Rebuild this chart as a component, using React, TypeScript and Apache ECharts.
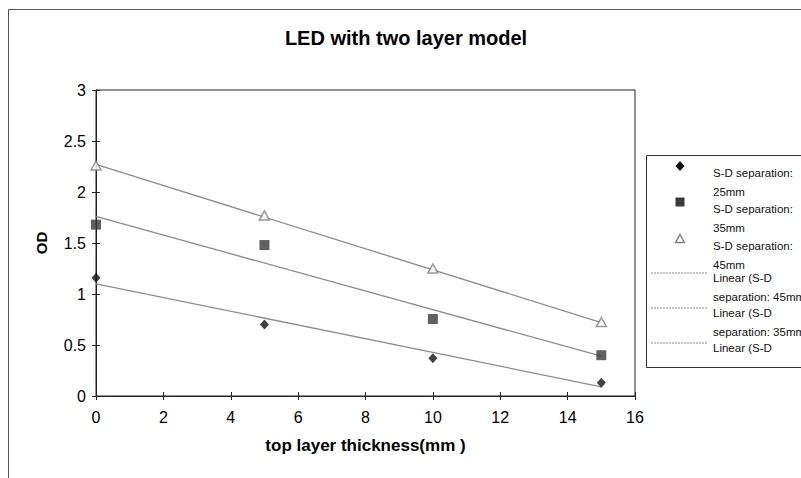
import React, { useEffect, useRef } from "react";
import * as echarts from "echarts";

const thickness = [0, 5, 10, 15];
const od25mm = [1.16, 0.7, 0.37, 0.13];
const od35mm = [1.68, 1.48, 0.755, 0.4];
const od45mm = [2.26, 1.77, 1.25, 0.725];
// trendline end values (at x = 0 and x = 15)
const trendX = [0, 15];
const trend25mm = [1.1, 0.09];
const trend35mm = [1.76, 0.39];
const trend45mm = [2.27, 0.72];

const legendLabels = [
  ["S-D separation:", "25mm"],
  ["S-D separation:", "35mm"],
  ["S-D separation:", "45mm"],
  ["Linear (S-D", "separation: 45mm"],
  ["Linear (S-D", "separation: 35mm"],
  ["Linear (S-D", "separation: 25mm)"],
];

const FONT = "Liberation Sans, Arial, sans-serif";
const TREND_COLOR = "#8c8c8c";

function zip(xs: number[], ys: number[]) {
  return xs.map((x, i) => [x, ys[i]]);
}

export default function App() {
  const ref = useRef<HTMLDivElement>(null);
  useEffect(() => {
    if (!ref.current) return;
    const chart = echarts.init(ref.current, null, { renderer: "svg" });

    const legendX = 646;
    const markerX = 680;
    const textX = 713;
    const rowsY = [166, 202, 239, 273, 308, 343];
    const legendGraphics: any[] = [
      {
        type: "rect",
        shape: { x: legendX + 0.5, y: 155.5, width: 200, height: 212 },
        style: { fill: "#fff", stroke: "#333", lineWidth: 1 },
        z: 10,
      },
    ];
    rowsY.forEach((y, i) => {
      const first = i < 3 ? y + 7 : y + 5;
      legendGraphics.push({
        type: "text",
        x: textX,
        y: first,
        style: {
          text: legendLabels[i][0],
          font: `11.5px ${FONT}`,
          fill: "#111",
          textVerticalAlign: "middle",
        },
        z: 11,
      });
      if (first + 19 < 366) {
        legendGraphics.push({
          type: "text",
          x: textX,
          y: first + 19,
          style: {
            text: legendLabels[i][1],
            font: `11.5px ${FONT}`,
            fill: "#111",
            textVerticalAlign: "middle",
          },
          z: 11,
        });
      }
    });
    // markers
    legendGraphics.push({
      type: "polygon",
      shape: {
        points: [
          [markerX, rowsY[0] - 5],
          [markerX + 4.5, rowsY[0]],
          [markerX, rowsY[0] + 5],
          [markerX - 4.5, rowsY[0]],
        ],
      },
      style: { fill: "#111" },
      z: 11,
    });
    legendGraphics.push({
      type: "rect",
      shape: { x: markerX - 4.5, y: rowsY[1] - 4.5, width: 9, height: 9 },
      style: { fill: "#3a3a3a" },
      z: 11,
    });
    legendGraphics.push({
      type: "polygon",
      shape: {
        points: [
          [markerX, rowsY[2] - 4.5],
          [markerX + 4.5, rowsY[2] + 3.5],
          [markerX - 4.5, rowsY[2] + 3.5],
        ],
      },
      style: { fill: "#fff", stroke: "#808080", lineWidth: 1.5 },
      z: 11,
    });
    [3, 4, 5].forEach((i) => {
      legendGraphics.push({
        type: "line",
        shape: { x1: 651, y1: rowsY[i], x2: 708, y2: rowsY[i] },
        style: { stroke: TREND_COLOR, lineWidth: 1, lineDash: [2, 1] },
        z: 11,
      });
    });

    const trendSeries = (name: string, vals: number[]) => ({
      name,
      type: "line",
      data: zip(trendX, vals),
      symbol: "none",
      lineStyle: { color: TREND_COLOR, width: 1.3 },
      z: 2,
    });

    chart.setOption({
      animation: false,
      backgroundColor: "#fff",
      title: {
        text: "LED with two layer model",
        left: 401,
        top: 23,
        textAlign: "center",
        textStyle: { fontFamily: FONT, fontSize: 20, fontWeight: "bold", color: "#000" },
      },
      grid: {
        left: 96,
        top: 90,
        right: 801 - 635,
        bottom: 478 - 396,
        show: true,
        borderColor: "#222",
        borderWidth: 1,
        backgroundColor: "transparent",
      },
      xAxis: [
        {
          type: "value",
          min: 0,
          max: 16,
          interval: 2,
          name: "top layer thickness(mm )",
          nameLocation: "middle",
          nameGap: 41,
          nameTextStyle: { fontFamily: FONT, fontSize: 17, fontWeight: "bold", color: "#000" },
          axisLine: { show: true, lineStyle: { color: "#222", width: 1 } },
          axisTick: { show: true, length: 4, lineStyle: { color: "#222" } },
          axisLabel: { fontFamily: FONT, fontSize: 16, color: "#000", margin: 13 },
          splitLine: { show: false },
        },
        {
          type: "value",
          min: 0,
          max: 16,
          interval: 2,
          position: "bottom",
          offset: 0,
          axisLine: { show: false },
          axisTick: { show: true, inside: true, length: 4, lineStyle: { color: "#222" } },
          axisLabel: { show: false },
          splitLine: { show: false },
        },
      ],
      yAxis: [
        {
          type: "value",
          min: 0,
          max: 3,
          interval: 0.5,
          name: "OD",
          nameLocation: "middle",
          nameGap: 47,
          nameRotate: 90,
          nameTextStyle: { fontFamily: FONT, fontSize: 15, fontWeight: "bold", color: "#000" },
          axisLine: { show: true, lineStyle: { color: "#222", width: 1 } },
          axisTick: { show: true, length: 4, lineStyle: { color: "#222" } },
          axisLabel: { fontFamily: FONT, fontSize: 16, color: "#000", margin: 10 },
          splitLine: { show: false },
        },
        {
          type: "value",
          min: 0,
          max: 3,
          interval: 0.5,
          position: "left",
          offset: 0,
          axisLine: { show: false },
          axisTick: { show: true, inside: true, length: 4, lineStyle: { color: "#222" } },
          axisLabel: { show: false },
          splitLine: { show: false },
        },
      ],
      series: [
        trendSeries("Linear (S-D separation: 45mm)", trend45mm),
        trendSeries("Linear (S-D separation: 35mm)", trend35mm),
        trendSeries("Linear (S-D separation: 25mm)", trend25mm),
        {
          name: "S-D separation: 25mm",
          type: "scatter",
          data: zip(thickness, od25mm),
          symbol: "diamond",
          symbolSize: [9, 10],
          itemStyle: { color: "#111" },
          z: 5,
        },
        {
          name: "S-D separation: 35mm",
          type: "scatter",
          data: zip(thickness, od35mm),
          symbol: "rect",
          symbolSize: 10,
          itemStyle: { color: "#3a3a3a" },
          z: 5,
        },
        {
          name: "S-D separation: 45mm",
          type: "scatter",
          data: zip(thickness, od45mm),
          symbol: "triangle",
          symbolSize: [10, 9],
          itemStyle: { color: "#fff", borderColor: "#808080", borderWidth: 1.5 },
          z: 5,
        },
      ],
      graphic: [
        {
          type: "rect",
          shape: { x: 8.5, y: 9.5, width: 1000, height: 1000 },
          style: { fill: "none", stroke: "#555", lineWidth: 1 },
          z: 0,
          silent: true,
        },
        ...legendGraphics,
      ],
    });
    return () => chart.dispose();
  }, []);
  return (
    <div
      ref={ref}
      style={{ position: "fixed", left: 0, top: 0, width: 801, height: 478 }}
    />
  );
}
